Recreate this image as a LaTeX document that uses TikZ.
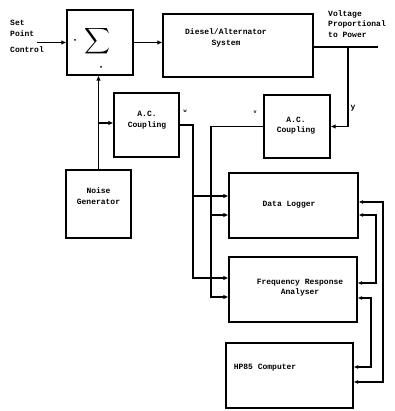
\documentclass[tikz,border=0pt]{standalone}
\usepackage{fontspec}
\setmainfont{Liberation Mono}
\usetikzlibrary{arrows.meta}
\begin{document}
\begin{tikzpicture}[x=1pt,y=-1pt,
  blk/.style={draw,line width=1.2pt,inner sep=0pt,align=center},
  lbl/.style={font=\fontsize{8}{10.5}\selectfont\bfseries,inner sep=0pt,align=center},
  ln/.style={line width=1.2pt},
  arr/.style={ln,-{Latex[length=5pt,width=4.5pt]}},
  both/.style={ln,{Latex[length=4.5pt,width=4pt]}-{Latex[length=4.5pt,width=4pt]}}]
\useasboundingbox (0,0) rectangle (394,411);
% blocks
\node[blk,minimum width=66pt,minimum height=65pt] (sum) at (100,42.5) {};
\node[inner sep=0pt] (sig) at (97,41) {\resizebox*{26pt}{29pt}{$\displaystyle\sum$}};
\fill (75,40) circle (1pt);
\fill (101,67) circle (1pt);
\node[blk,minimum width=150pt,minimum height=63pt] (dsl) at (238,45.5) {};
\node[lbl] (dsltxt) at (226,38) {Diesel/Alternator\\System};
\node[blk,minimum width=65pt,minimum height=64pt] (lac) at (146.5,125) {};
\node[lbl] (lactxt) at (147,120) {A.C.\\Coupling};
\node[blk,minimum width=66pt,minimum height=63pt] (rac) at (297,126.5) {};
\node[lbl] (ractxt) at (296,125.5) {A.C.\\Coupling};
\node[blk,minimum width=65pt,minimum height=68pt] (noise) at (98.5,204) {};
\node[lbl] (noisetxt) at (98.5,196) {Noise\\Generator};
\node[blk,minimum width=129pt,minimum height=65pt] (dl) at (293.5,205.5) {};
\node[lbl] (dltxt) at (289,205) {Data Logger};
\node[blk,minimum width=128pt,minimum height=65pt] (fra) at (293,289.5) {};
\node[lbl] (fratxt) at (300,287.5) {Frequency Response\\Analyser};
\node[blk,minimum width=127pt,minimum height=65pt] (hp) at (289.5,375.5) {};
\node[lbl] (hptxt) at (265,368) {HP85 Computer};
% texts
\node[lbl,align=left,anchor=west] (sp1) at (10,23) {Set};
\node[lbl,align=left,anchor=west] (sp2) at (10,34) {Point};
\node[lbl,align=left,anchor=west] (sp3) at (10,50) {Control};
\node[lbl,align=left,anchor=west] (vp) at (328,24) {Voltage\\Proportional\\to Power};
\node[lbl] (ylab) at (353,108) {y};
\node[lbl,font=\fontsize{5}{6}\selectfont\bfseries] (wlab) at (185,111) {w};
\node[lbl,font=\fontsize{5}{6}\selectfont\bfseries] (vlab) at (255,112) {v};
% connectors
\coordinate (sp) at (37,42.5);
\draw[arr] (sp) -- (sum.west);
\draw[arr] (sum.east) -- (sum.east -| dsl.west);
\coordinate (out) at (378,47);
\coordinate (br) at (348,47);
\draw[ln] (dsl.east |- out) -- (out);
\draw[arr] (br) |- (rac.east);
\draw[arr] (noise.north) -- (noise.north |- sum.south);
\coordinate (nb) at (98.5,123);
\draw[arr] (nb) -- (nb -| lac.west);
\coordinate (w1) at (193,196);
\coordinate (w2) at (193,278);
\draw[arr] (lac.east) -| (w2) -- (w2 -| fra.west);
\draw[arr] (w1) -- (w1 -| dl.west);
\coordinate (v1) at (211,215);
\coordinate (v2) at (211,297);
\draw[arr] (rac.west) -| (v2) -- (v2 -| fra.west);
\draw[arr] (v1) -- (v1 -| dl.west);
\coordinate (a1) at (383,202);
\coordinate (a2) at (383,382);
\draw[both] (a1 -| dl.east) -- (a1) -- (a2) -- (a2 -| hp.east);
\coordinate (b1) at (376,215);
\coordinate (b2) at (376,283);
\draw[both] (b1 -| dl.east) -- (b1) -- (b2) -- (b2 -| fra.east);
\coordinate (c1) at (371,298);
\coordinate (c2) at (371,367);
\draw[both] (c1 -| fra.east) -- (c1) -- (c2) -- (c2 -| hp.east);
\end{tikzpicture}
\end{document}
